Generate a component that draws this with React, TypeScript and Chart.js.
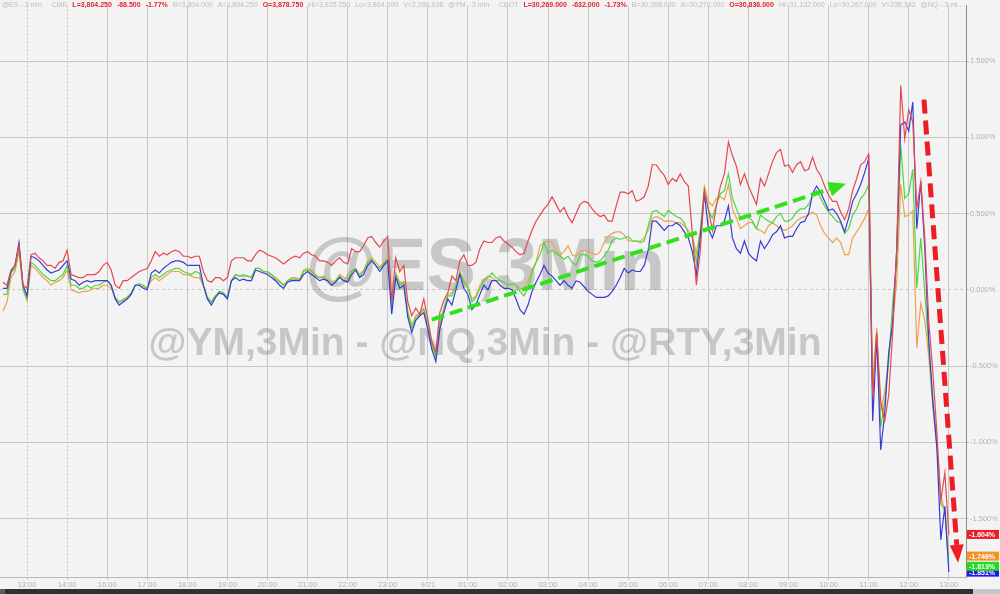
import React, { useEffect, useRef } from "react";
import { Chart, registerables } from "chart.js";

Chart.register(...registerables);

// ---- axis / labels ----
const TICK_LABELS = ["13:00","14:00","16:00","17:00","18:00","19:00","20:00","21:00","22:00","23:00","9/21","01:00","02:00","03:00","04:00","05:00","06:00","07:00","08:00","09:00","10:00","11:00","12:00","13:00"];
const Y_TICKS = [-1.5, -1, -0.5, 0, 0.5, 1, 1.5];
const Y_MIN = -1.883;
const Y_MAX = 1.864;
const X_MIN = -0.674;
const X_MAX = 23.428;
// samples: hours relative to first "13:00" tick
const SAMPLE_START_H = -0.6;
const SAMPLE_STEP_H = 0.1;

// ---- series (% change) ----
const RTY = [0.05,0.03,0.13,0.16,0.29,0.03,0.01,0.23,0.24,0.21,
0.19,0.16,0.16,0.14,0.18,0.19,0.26,0.10,0.09,0.08,
0.08,0.10,0.10,0.10,0.12,0.16,0.18,0.13,0.03,0.01,
0.06,0.06,0.08,0.10,0.12,0.13,0.14,0.19,0.25,0.22,
0.24,0.23,0.25,0.26,0.25,0.22,0.22,0.21,0.22,0.22,
0.12,0.06,0.05,0.08,0.08,0.06,0.08,0.19,0.21,0.21,
0.21,0.19,0.19,0.23,0.26,0.25,0.23,0.22,0.21,0.19,
0.17,0.19,0.21,0.22,0.21,0.24,0.25,0.23,0.22,0.19,
0.19,0.18,0.16,0.19,0.21,0.18,0.17,0.27,0.25,0.25,
0.29,0.34,0.35,0.31,0.28,0.32,0.35,-0.07,0.21,0.12,
0.16,-0.08,-0.17,-0.12,-0.16,-0.06,-0.19,-0.34,-0.41,-0.15,
-0.07,-0.02,0.09,0.06,0.19,0.23,0.16,0.16,0.18,0.27,
0.32,0.31,0.31,0.34,0.35,0.32,0.30,0.28,0.25,0.23,
0.24,0.32,0.39,0.45,0.49,0.53,0.56,0.61,0.56,0.51,
0.54,0.48,0.44,0.50,0.56,0.58,0.57,0.53,0.50,0.48,
0.49,0.45,0.45,0.55,0.64,0.64,0.63,0.65,0.58,0.59,
0.61,0.68,0.82,0.82,0.78,0.75,0.69,0.73,0.71,0.76,
0.71,0.68,0.37,0.03,0.26,0.65,0.53,0.39,0.55,0.68,
0.76,0.97,0.88,0.81,0.69,0.76,0.68,0.62,0.56,0.73,
0.68,0.76,0.84,0.90,0.92,0.81,0.82,0.77,0.82,0.84,
0.78,0.79,0.87,0.79,0.75,0.68,0.62,0.58,0.58,0.51,
0.46,0.53,0.65,0.73,0.82,0.84,0.89,-0.70,-0.28,-0.73,
-0.86,-0.69,-0.28,0.27,1.34,0.99,1.18,1.10,0.53,0.71,
0.34,-0.21,-0.54,-0.93,-1.38,-1.20,-1.604];

const NQ = [0.01,0.01,0.12,0.16,0.31,0.03,-0.04,0.22,0.21,0.19,
0.16,0.13,0.11,0.12,0.13,0.16,0.19,0.07,0.06,0.03,
0.05,0.06,0.05,0.06,0.06,0.06,0.06,0.03,-0.06,-0.10,
-0.08,-0.06,-0.03,0.03,0.03,0.01,0.00,0.11,0.13,0.11,
0.14,0.16,0.18,0.19,0.19,0.18,0.16,0.16,0.16,0.16,
0.03,-0.06,-0.10,-0.05,-0.02,-0.03,-0.06,0.06,0.08,0.06,
0.07,0.06,0.06,0.13,0.12,0.11,0.10,0.08,0.06,0.03,
0.01,0.05,0.06,0.06,0.06,0.10,0.12,0.10,0.08,0.06,
0.07,0.06,0.03,0.05,0.08,0.06,0.05,0.10,0.13,0.08,
0.10,0.16,0.19,0.16,0.12,0.16,0.19,-0.16,0.08,0.01,
0.03,-0.18,-0.28,-0.20,-0.17,-0.15,-0.26,-0.39,-0.47,-0.26,
-0.15,-0.06,-0.10,0.00,0.10,0.01,-0.03,-0.13,-0.10,-0.03,
0.03,0.00,0.06,0.06,0.03,0.01,0.01,0.00,-0.06,-0.13,
-0.16,-0.10,-0.01,0.05,0.10,0.16,0.11,0.09,0.06,0.03,
0.06,0.03,0.01,0.06,0.05,0.02,-0.01,-0.03,-0.05,-0.05,
-0.05,-0.04,-0.01,0.03,0.08,0.14,0.11,0.13,0.12,0.12,
0.16,0.26,0.45,0.45,0.42,0.39,0.42,0.42,0.44,0.42,
0.38,0.34,0.25,0.10,0.35,0.63,0.40,0.34,0.42,0.42,
0.45,0.55,0.34,0.27,0.24,0.32,0.24,0.21,0.19,0.32,
0.27,0.31,0.36,0.38,0.42,0.34,0.35,0.35,0.40,0.44,
0.45,0.50,0.63,0.68,0.64,0.58,0.52,0.53,0.50,0.45,
0.38,0.47,0.58,0.63,0.69,0.77,0.86,-0.86,-0.31,-1.05,
-0.81,-0.41,-0.21,0.27,1.08,1.10,1.04,1.23,0.40,0.71,
0.27,-0.34,-0.73,-1.03,-1.64,-1.42,-1.851];

const ES = [-0.03,-0.03,0.11,0.14,0.28,0.01,-0.06,0.18,0.16,0.13,
0.10,0.08,0.06,0.06,0.08,0.10,0.16,0.03,0.03,0.01,
0.01,0.03,0.01,0.03,0.03,0.05,0.06,0.03,-0.05,-0.08,
-0.07,-0.05,-0.02,0.03,0.04,0.03,0.01,0.08,0.10,0.08,
0.10,0.12,0.13,0.14,0.14,0.12,0.11,0.10,0.12,0.11,
0.03,-0.05,-0.08,-0.04,-0.01,-0.02,-0.05,0.06,0.10,0.09,
0.10,0.09,0.08,0.14,0.14,0.12,0.12,0.10,0.07,0.05,
0.03,0.06,0.07,0.07,0.06,0.12,0.13,0.12,0.09,0.08,
0.08,0.06,0.03,0.06,0.09,0.06,0.06,0.12,0.14,0.09,
0.12,0.18,0.20,0.16,0.14,0.17,0.20,-0.12,0.10,0.03,
0.05,-0.15,-0.25,-0.18,-0.16,-0.13,-0.23,-0.36,-0.44,-0.23,
-0.13,-0.04,-0.04,0.03,0.11,0.05,0.01,-0.08,-0.05,0.01,
0.06,0.08,0.11,0.08,0.06,0.05,0.03,0.04,0.03,-0.01,
-0.04,0.01,0.11,0.18,0.23,0.31,0.24,0.26,0.24,0.22,
0.20,0.22,0.18,0.16,0.23,0.23,0.22,0.19,0.18,0.19,
0.22,0.26,0.32,0.34,0.33,0.34,0.35,0.32,0.32,0.31,
0.32,0.42,0.51,0.52,0.50,0.48,0.52,0.50,0.48,0.47,
0.44,0.37,0.34,0.18,0.39,0.65,0.52,0.47,0.56,0.63,
0.65,0.76,0.60,0.53,0.47,0.49,0.48,0.45,0.40,0.49,
0.47,0.45,0.44,0.48,0.50,0.45,0.45,0.47,0.51,0.53,
0.53,0.56,0.62,0.65,0.60,0.55,0.51,0.48,0.45,0.44,
0.37,0.40,0.49,0.53,0.60,0.63,0.69,-0.70,-0.28,-0.90,
-0.73,-0.47,-0.08,0.18,0.95,0.60,0.63,0.79,0.01,0.34,
-0.02,-0.38,-0.73,-0.99,-1.40,-1.45,-1.813];

const YM = [-0.14,-0.08,0.08,0.12,0.25,0.00,-0.07,0.16,0.14,0.11,
0.08,0.06,0.03,0.05,0.06,0.08,0.13,0.00,-0.01,-0.02,
-0.01,-0.01,0.00,0.01,0.01,0.03,0.03,0.01,-0.05,-0.08,
-0.06,-0.05,-0.02,0.03,0.03,0.02,0.01,0.06,0.08,0.06,
0.08,0.10,0.12,0.12,0.12,0.10,0.10,0.09,0.08,0.08,
0.03,-0.05,-0.08,-0.04,-0.02,-0.03,-0.05,0.06,0.10,0.09,
0.09,0.09,0.08,0.14,0.14,0.12,0.11,0.10,0.08,0.06,
0.03,0.06,0.08,0.08,0.07,0.13,0.14,0.13,0.10,0.08,
0.09,0.07,0.05,0.06,0.10,0.08,0.07,0.13,0.14,0.10,
0.13,0.19,0.21,0.18,0.15,0.18,0.21,-0.10,0.11,0.05,
0.05,-0.14,-0.23,-0.17,-0.15,-0.12,-0.23,-0.36,-0.43,-0.21,
-0.12,-0.03,-0.02,0.03,0.12,0.06,0.03,-0.06,-0.04,0.03,
0.07,0.09,0.08,0.06,0.06,0.05,0.03,0.04,0.03,0.01,
0.00,0.06,0.13,0.18,0.29,0.31,0.32,0.31,0.26,0.23,
0.25,0.29,0.23,0.22,0.25,0.26,0.25,0.24,0.23,0.25,
0.31,0.35,0.37,0.38,0.38,0.36,0.32,0.32,0.32,0.32,
0.34,0.39,0.47,0.48,0.47,0.45,0.45,0.45,0.44,0.44,
0.42,0.39,0.35,0.24,0.39,0.68,0.58,0.55,0.60,0.61,
0.59,0.69,0.53,0.47,0.40,0.42,0.44,0.44,0.40,0.39,
0.37,0.42,0.44,0.42,0.40,0.39,0.40,0.42,0.45,0.47,
0.48,0.49,0.51,0.49,0.42,0.37,0.34,0.31,0.34,0.31,
0.23,0.23,0.34,0.38,0.42,0.47,0.53,-0.60,-0.25,-0.80,
-0.67,-0.44,-0.21,0.05,0.69,0.48,0.49,0.52,-0.38,-0.09,
-0.20,-0.44,-0.77,-1.03,-1.35,-1.45,-1.746];

const SERIES_NAMES = ["@RTY", "@NQ", "@ES", "@YM"];
const SERIES_COLORS = ["#e5484f", "#3a3ad8", "#4cd844", "#f0a050"];
const LABEL_COLORS = ["#ea1f28", "#1c1ce4", "#20dc20", "#f5922a"];

// annotation arrows: [hour, %]
const GREEN_ARROW = { from: [10.1, -0.195], to: [20.43, 0.695] };
const RED_ARROW = { from: [22.38, 1.247], to: [23.23, -1.79] };

const WATERMARK_MAIN = "@ES,3Min";
const WATERMARK_SUB = "@YM,3Min - @NQ,3Min - @RTY,3Min";

const HEADER: [string, boolean, number][] = [
  ["@ES - 3 min", false, 0], ["CME", false, 5], ["L=3,804.250", true, 0], ["-68.500", true, 0], ["-1.77%", true, 0],
  ["B=3,804.000", false, 0], ["A=3,804.250", false, 0], ["O=3,878.750", true, 0], ["Hi=3,925.250", false, 0],
  ["Lo=3,804.000", false, 0], ["V=2,260,938", false, 0], ["@YM - 3 min", false, 0], ["CBOT", false, 5],
  ["L=30,269.000", true, 0], ["-632.000", true, 0], ["-1.73%", true, 0], ["B=30,268.000", false, 0],
  ["A=30,270.000", false, 0], ["O=30,836.000", true, 0], ["Hi=31,132.000", false, 0], ["Lo=30,267.000", false, 0],
  ["V=235,342", false, 0], ["@NQ - 3 mi...", false, 0],
];

const FONT = "'Liberation Sans', Arial, sans-serif";

function drawArrow(ctx: CanvasRenderingContext2D, x1: number, y1: number, x2: number, y2: number,
  color: string, width: number, dash: number[], headLen: number, headW: number) {
  const ang = Math.atan2(y2 - y1, x2 - x1);
  const bx = x2 - headLen * Math.cos(ang);
  const by = y2 - headLen * Math.sin(ang);
  ctx.save();
  ctx.strokeStyle = color;
  ctx.lineWidth = width;
  ctx.setLineDash(dash);
  ctx.beginPath();
  ctx.moveTo(x1, y1);
  ctx.lineTo(bx, by);
  ctx.stroke();
  ctx.setLineDash([]);
  ctx.fillStyle = color;
  ctx.beginPath();
  ctx.moveTo(x2, y2);
  ctx.lineTo(bx + (headW / 2) * Math.sin(ang), by - (headW / 2) * Math.cos(ang));
  ctx.lineTo(bx - (headW / 2) * Math.sin(ang), by + (headW / 2) * Math.cos(ang));
  ctx.closePath();
  ctx.fill();
  ctx.restore();
}

const overlayPlugin = {
  id: "overlay",
  beforeDatasetsDraw(chart: any) {
    const { ctx, chartArea: a } = chart;
    ctx.save();
    ctx.fillStyle = "rgba(100,100,100,0.30)";
    ctx.textAlign = "center";
    ctx.textBaseline = "middle";
    ctx.font = `bold 74px ${FONT}`;
    ctx.fillText(WATERMARK_MAIN, a.left + a.width * 0.502, a.top + a.height * 0.462);
    ctx.font = `bold 39px ${FONT}`;
    ctx.fillText(WATERMARK_SUB, a.left + a.width * 0.502, a.top + a.height * 0.592);
    ctx.restore();
  },
  afterDatasetsDraw(chart: any) {
    const { ctx } = chart;
    const xs = chart.scales.x;
    const ys = chart.scales.y;
    const p = (pt: number[]) => [xs.getPixelForValue(pt[0]), ys.getPixelForValue(pt[1])];
    let [a1, b1] = p(GREEN_ARROW.from);
    let [a2, b2] = p(GREEN_ARROW.to);
    drawArrow(ctx, a1, b1, a2, b2, "#33e01e", 4, [13, 6], 17, 15);
    [a1, b1] = p(RED_ARROW.from);
    [a2, b2] = p(RED_ARROW.to);
    drawArrow(ctx, a1, b1, a2, b2, "#ee1c25", 5, [14, 7], 18, 14);
  },
  afterDraw(chart: any) {
    const { ctx } = chart;
    const ys = chart.scales.y;
    const right = chart.chartArea.right;
    const order = [1, 2, 3, 0];
    ctx.save();
    ctx.font = `bold 7px ${FONT}`;
    ctx.textBaseline = "middle";
    ctx.textAlign = "left";
    for (const i of order) {
      const ds = chart.data.datasets[i];
      const last = ds.data[ds.data.length - 1].y;
      const y = ys.getPixelForValue(last);
      ctx.fillStyle = LABEL_COLORS[i];
      ctx.fillRect(right + 1, y - 4.5, 32, 9);
      ctx.fillStyle = "#ffffff";
      ctx.fillText(last.toFixed(3) + "%", right + 3, y + 0.5);
    }
    ctx.restore();
  },
};

export default function App() {
  const ref = useRef<HTMLCanvasElement | null>(null);

  useEffect(() => {
    if (!ref.current) return;
    const series = [RTY, NQ, ES, YM];
    const chart = new Chart(ref.current, {
      type: "line",
      data: {
        datasets: series.map((vals, si) => ({
          label: SERIES_NAMES[si],
          data: vals.map((v, i) => ({ x: SAMPLE_START_H + i * SAMPLE_STEP_H, y: v })),
          borderColor: SERIES_COLORS[si],
          borderWidth: 1.2,
          pointRadius: 0,
          tension: 0,
          fill: false,
        })),
      },
      options: {
        responsive: false,
        animation: false,
        events: [],
        layout: { padding: 0 },
        plugins: { legend: { display: false }, tooltip: { enabled: false } },
        scales: {
          x: {
            type: "linear",
            min: X_MIN,
            max: X_MAX,
            afterBuildTicks: (s: any) => {
              s.ticks = TICK_LABELS.map((_, i) => ({ value: i }));
            },
            afterFit: (s: any) => {
              s.height = 12;
            },
            ticks: {
              autoSkip: false,
              maxRotation: 0,
              padding: 0,
              color: "#b2b2b2",
              font: { size: 7.5, family: FONT },
              callback: (v: any) => TICK_LABELS[Math.round(Number(v))] ?? "",
            },
            grid: { color: "#c6c6c6", lineWidth: 1, tickLength: 3 },
            border: {
              color: "#b8b8b8",
              dash: (c: any) => (c && c.tick && c.index <= 1 ? [2, 2] : []),
            },
          },
          y: {
            type: "linear",
            position: "right",
            min: Y_MIN,
            max: Y_MAX,
            afterBuildTicks: (s: any) => {
              s.ticks = Y_TICKS.map((v) => ({ value: v }));
            },
            afterFit: (s: any) => {
              s.width = 34;
            },
            ticks: {
              padding: 1,
              color: "#b2b2b2",
              font: { size: 7.5, family: FONT },
              callback: (v: any) => Number(v).toFixed(3) + "%",
            },
            grid: { color: "#c6c6c6", lineWidth: 1, tickLength: 3 },
            border: {
              color: "#8c8c8c",
              dash: (c: any) => (c && c.tick && c.tick.value === 0 ? [3, 3] : []),
            },
          },
        },
      },
      plugins: [overlayPlugin],
    } as any);
    return () => chart.destroy();
  }, []);

  return (
    <div style={{ position: "fixed", left: 0, top: 0, width: 1000, height: 594, background: "#f3f3f3", overflow: "hidden", fontFamily: FONT }}>
      <canvas ref={ref} width={1000} height={589} style={{ position: "absolute", left: 0, top: 0, width: 1000, height: 589 }} />
      <div style={{ position: "absolute", left: 2, top: 0, width: 962, height: 10, display: "flex", gap: 5, whiteSpace: "nowrap", overflow: "hidden", fontSize: 7, lineHeight: "10px" }}>
        {HEADER.map(([t, red, ml], i) => (
          <span key={i} style={{ color: red ? "#e3232c" : "#bdbdbd", fontWeight: red ? 700 : 400, marginLeft: ml }}>{t}</span>
        ))}
      </div>
      <div style={{ position: "absolute", left: 0, top: 589, width: 1000, height: 5, background: "#2d323a" }} />
      <div style={{ position: "absolute", left: 0, top: 589, width: 5, height: 5, background: "#5a5f66" }} />
      <div style={{ position: "absolute", left: 973, top: 589, width: 27, height: 5, background: "#c4c7cb" }} />
    </div>
  );
}
